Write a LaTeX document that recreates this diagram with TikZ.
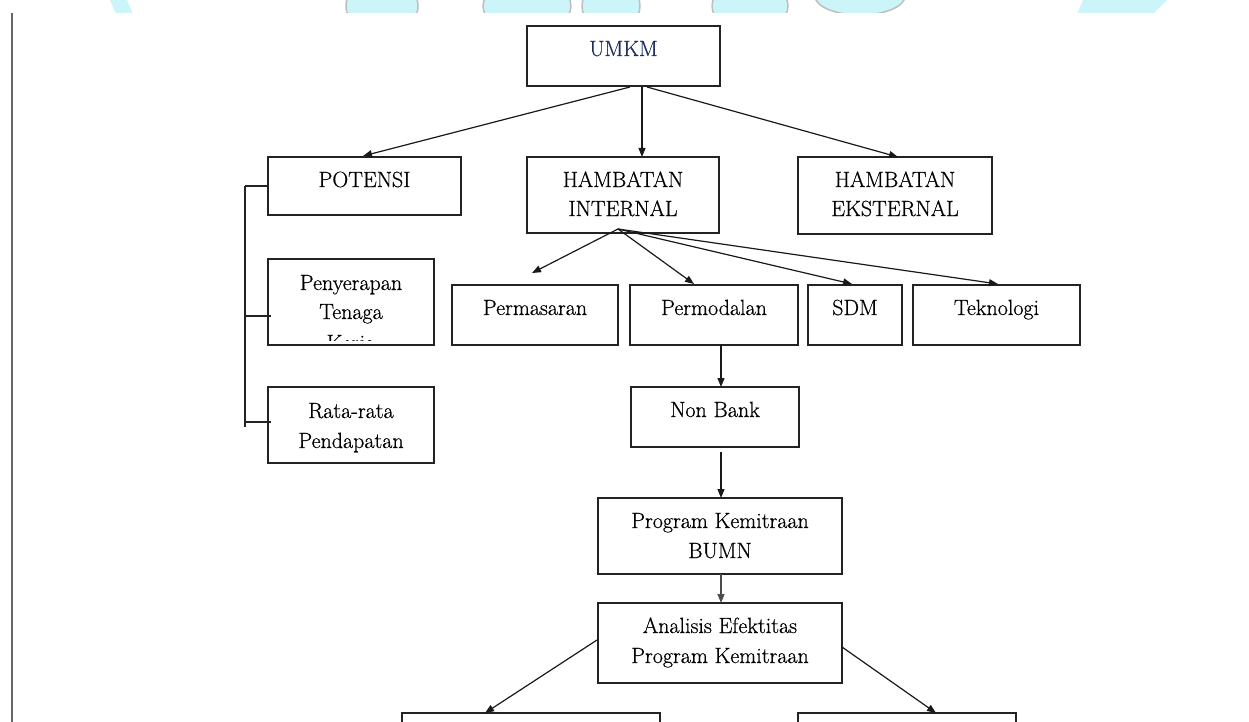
\documentclass[tikz,border=0pt]{standalone}
\usepackage{fontspec}
\setmainfont{Latin Modern Roman}[FakeBold=0.6]
\usetikzlibrary{arrows.meta}
\definecolor{wmcyan}{RGB}{204,245,250}
\definecolor{wmgray}{RGB}{190,190,190}
\definecolor{boxline}{RGB}{35,35,35}
\definecolor{umkmtext}{RGB}{30,45,95}
\begin{document}
\begin{tikzpicture}[x=1pt,y=-1pt,
  box/.style={draw=boxline,line width=1.6pt,anchor=north west,inner sep=0pt,outer sep=0pt},
  lbl/.style={anchor=base,inner sep=0pt,font=\fontsize{22}{30}\selectfont},
  arr/.style={draw=black!90,line width=1.2pt,-{Triangle[length=9pt,width=7pt]}},
  bracket/.style={draw=boxline,line width=1.6pt},
  pageline/.style={draw=black!60,line width=2pt},
  wm/.style={fill=wmcyan},
  wmline/.style={draw=wmgray,line width=1.5pt}]
\useasboundingbox (0,0) rectangle (1249,722);

% watermark remnants at the top edge
\begin{scope}
  \clip (0,0) rectangle (1249,13);
  \fill[wm] (110,0) -- (127,0) -- (133,14) -- (116,14) -- cycle;
  \filldraw[wm,wmline] (382,6) ellipse [x radius=36, y radius=28];
  \filldraw[wm,wmline] (527,6) ellipse [x radius=44, y radius=26];
  \filldraw[wm,wmline] (611,6) ellipse [x radius=29, y radius=26];
  \filldraw[wm,wmline] (750,6) ellipse [x radius=38, y radius=26];
  \filldraw[wm,wmline] (860,-4) ellipse [x radius=45, y radius=19];
  \fill[wm] (1083,0) -- (1167,0) -- (1153,14) -- (1077,14) -- cycle;
\end{scope}

% page rule on the left
\coordinate (pl-top) at (12,13);
\coordinate (pl-bot) at (12,722);
\draw[pageline] (pl-top) -- (pl-bot);

% boxes
\node[box,minimum width=193pt,minimum height=60pt] (umkm) at (527,26) {};
\node[box,minimum width=193pt,minimum height=58pt] (potensi) at (268,157) {};
\node[box,minimum width=192pt,minimum height=76pt] (hint) at (527,157) {};
\node[box,minimum width=194pt,minimum height=77pt] (heks) at (798,157) {};
\node[box,minimum width=166pt,minimum height=86pt] (peny) at (268,259) {};
\node[box,minimum width=166pt,minimum height=76pt] (rata) at (268,387) {};
\node[box,minimum width=166pt,minimum height=60pt] (pems) at (452,285) {};
\node[box,minimum width=168pt,minimum height=60pt] (pmod) at (630,285) {};
\node[box,minimum width=94pt,minimum height=60pt] (sdm) at (808,285) {};
\node[box,minimum width=167pt,minimum height=60pt] (tek) at (913,285) {};
\node[box,minimum width=168pt,minimum height=60pt] (nonbank) at (631,387) {};
\node[box,minimum width=244pt,minimum height=76pt] (prog) at (598,498) {};
\node[box,minimum width=244pt,minimum height=80pt] (anal) at (598,603) {};
\node[box,minimum width=258pt,minimum height=40pt] (bl) at (402,713) {};
\node[box,minimum width=218pt,minimum height=40pt] (br) at (798,713) {};

% texts
\node[lbl,text=umkmtext] (umkm-t) at (623.5,56) {UMKM};
\node[lbl] (potensi-t) at (364.5,187) {POTENSI};
\node[lbl] (hint-t1) at (623,187) {HAMBATAN};
\node[lbl] (hint-t2) at (623,216) {INTERNAL};
\node[lbl] (heks-t1) at (895,187) {HAMBATAN};
\node[lbl] (heks-t2) at (895,216) {EKSTERNAL};
\node[lbl] (peny-t1) at (351,290) {Penyerapan};
\node[lbl] (peny-t2) at (351,319) {Tenaga};
\begin{scope}
  \clip (268,259) rectangle (434,340);
  \node[lbl] (peny-t3) at (351,350) {Kerja};
\end{scope}
\node[lbl] (rata-t1) at (351,418) {Rata-rata};
\node[lbl] (rata-t2) at (351,448) {Pendapatan};
\node[lbl] (pems-t) at (535,315) {Permasaran};
\node[lbl] (pmod-t) at (714,315) {Permodalan};
\node[lbl] (sdm-t) at (855,315) {SDM};
\node[lbl] (tek-t) at (996.5,315) {Teknologi};
\node[lbl] (nonbank-t) at (715,417) {Non Bank};
\node[lbl] (prog-t1) at (720,528) {Program Kemitraan};
\node[lbl] (prog-t2) at (720,558) {BUMN};
\node[lbl] (anal-t1) at (720,633) {Analisis Efektitas};
\node[lbl] (anal-t2) at (720,663) {Program Kemitraan};

% bracket joining the potential items
\coordinate (br-top) at (245,186);
\coordinate (br-bot) at (245,427);
\coordinate (br-m) at (245,316);
\coordinate (br-r) at (245,422);
\coordinate (peny-l) at (271,316);
\coordinate (rata-l) at (271,422);
\draw[bracket] (br-top) -- (br-bot);
\draw[bracket] (br-top) -- (br-top -| potensi.west);
\draw[bracket] (br-m) -- (peny-l);
\draw[bracket] (br-r) -- (rata-l);

% connector points
\coordinate (u-l) at (630,87);
\coordinate (u-m) at (642,87);
\coordinate (u-r) at (647,87);
\coordinate (pot-in) at (363,156);
\coordinate (hint-in) at (642,157);
\coordinate (heks-in) at (898,157);
\coordinate (hi-o) at (618,229);
\coordinate (pems-in) at (532,273);
\coordinate (pmod-in) at (694,284);
\coordinate (sdm-in) at (852,284);
\coordinate (tek-in) at (998,284);
\coordinate (pmod-o) at (721,345);
\coordinate (nb-in) at (721,387);
\coordinate (nb-o) at (721,452);
\coordinate (prog-in) at (721,498);
\coordinate (prog-o) at (721,574);
\coordinate (anal-in) at (721,603);
\coordinate (anal-ol) at (597,640);
\coordinate (anal-or) at (842,647);
\coordinate (bl-in) at (485,713);
\coordinate (br-in) at (936,713);

% connectors
\draw[arr] (u-l) -- (pot-in);
\draw[arr] (u-m) -- (hint-in);
\draw[arr] (u-r) -- (heks-in);
\draw[arr] (hi-o) -- (pems-in);
\draw[arr] (hi-o) -- (pmod-in);
\draw[arr] (hi-o) -- (sdm-in);
\draw[arr] (hi-o) -- (tek-in);
\draw[arr] (pmod-o) -- (nb-in);
\draw[arr] (nb-o) -- (prog-in);
\draw[arr,draw=black!70] (prog-o) -- (anal-in);
\draw[arr] (anal-ol) -- (bl-in);
\draw[arr] (anal-or) -- (br-in);
\end{tikzpicture}
\end{document}
